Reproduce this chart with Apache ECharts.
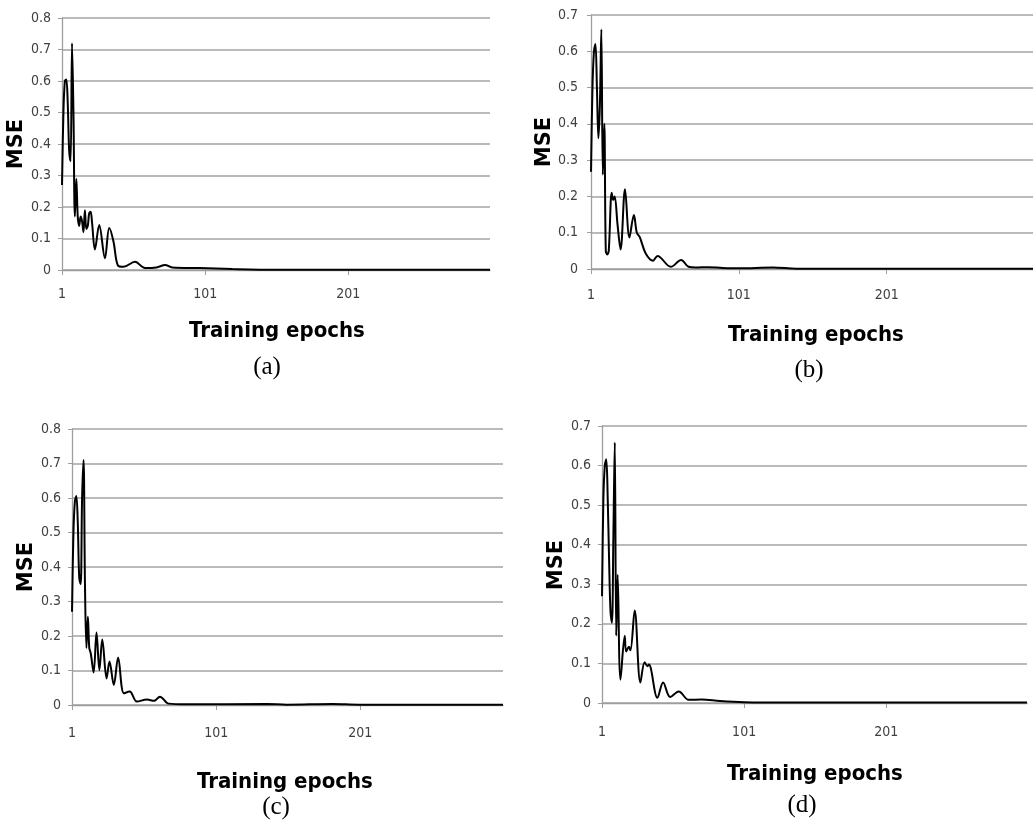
<!DOCTYPE html>
<html>
<head>
<meta charset="utf-8">
<title>MSE vs training epochs</title>
<script src="https://cdn.jsdelivr.net/npm/echarts@6/dist/echarts.min.js"></script>
<style>
  html, body { margin: 0; padding: 0; background: #fff; }
  #chart { width: 1033px; height: 824px; }
</style>
</head>
<body>
<div id="chart"></div>
<script>
// [epoch, MSE] (peaks, troughs and tail)
const mseA = [[1,0.27],[2,0.50],[3,0.60],[4,0.605],[5,0.53],[6,0.38],[7,0.345],[8,0.72],[9,0.50],[10,0.17],[11,0.29],[12,0.17],[13,0.14],[14,0.17],[15,0.155],[16,0.12],[17,0.19],[18,0.13],[19,0.14],[20,0.18],[21,0.185],[22,0.15],[24,0.065],[27,0.143],[31,0.037],[34,0.133],[37,0.09],[40,0.015],[44,0.01],[52,0.026],[59,0.006],[67,0.008],[73,0.016],[78,0.008],[97,0.006],[120,0.003],[150,0.001],[300,0.001]]
const mseB = [[1,0.268],[2,0.50],[3,0.60],[4,0.62],[5,0.50],[6,0.36],[7,0.45],[8,0.66],[9,0.26],[10,0.40],[11,0.05],[12,0.04],[13,0.05],[15,0.21],[16,0.19],[17,0.20],[19,0.12],[21,0.054],[24,0.22],[27,0.087],[30,0.149],[32,0.10],[34,0.088],[38,0.043],[43,0.023],[46,0.036],[55,0.006],[62,0.025],[67,0.006],[72,0.004],[80,0.005],[90,0.003],[101,0.002],[124,0.004],[140,0.001],[300,0.001]]
const mseC = [[1,0.27],[2,0.50],[3,0.59],[4,0.606],[5,0.53],[6,0.37],[7,0.35],[8,0.60],[9,0.71],[10,0.35],[11,0.165],[12,0.256],[13,0.165],[14,0.15],[16,0.094],[18,0.21],[20,0.101],[22,0.19],[25,0.077],[27,0.126],[30,0.058],[33,0.138],[37,0.034],[41,0.039],[46,0.01],[53,0.016],[58,0.012],[62,0.024],[68,0.004],[80,0.002],[136,0.003],[150,0.001],[182,0.003],[200,0.001],[300,0.001]]
const mseD = [[1,0.27],[2,0.52],[3,0.60],[4,0.616],[5,0.52],[6,0.36],[7,0.23],[8,0.203],[9,0.42],[10,0.658],[11,0.17],[12,0.324],[14,0.059],[17,0.17],[18,0.13],[20,0.142],[21,0.133],[24,0.234],[28,0.052],[31,0.103],[33,0.093],[34,0.097],[40,0.013],[44,0.052],[49,0.015],[55,0.029],[62,0.008],[71,0.009],[84,0.005],[101,0.002],[130,0.001],[300,0.001]]

const yMax = [0.8, 0.7, 0.8, 0.7]
const panelNames = ['(a)', '(b)', '(c)', '(d)']
const xTitle = 'Training epochs'
const yTitle = 'MSE'

const narrow = "'Liberation Sans Narrow', 'DejaVu Sans Condensed', sans-serif"

// plot boxes of the four panels
const boxes = [
  { left: 62, top: 18, width: 428, height: 252, xMargin: 17, yMargin: 11 },
  { left: 591, top: 15, width: 448, height: 254, xMargin: 19, yMargin: 13 },
  { left: 72, top: 429, width: 431, height: 276, xMargin: 21, yMargin: 11 },
  { left: 602, top: 426, width: 425, height: 277, xMargin: 22, yMargin: 11 }
]
const mseAt = [[17, 144], [545, 142], [27, 567], [557, 565]]
const titleAt = [[277, 331], [816, 335], [285, 782], [815, 774]]
const nameAt = [[267, 367], [809, 370], [276, 807], [802, 805]]

const series = [mseA, mseB, mseC, mseD]

const chart = echarts.init(document.getElementById('chart'))

const grid = boxes.map(b => ({ left: b.left, top: b.top, width: b.width, height: b.height }))

const xAxis = boxes.map((b, i) => ({
  type: 'value',
  gridIndex: i,
  min: 1,
  max: 300,
  interval: 100,
  axisLine: { show: true, onZero: false, lineStyle: { color: '#9e9e9e', width: 1.3 } },
  axisTick: { show: true, length: 5, lineStyle: { color: '#9e9e9e' } },
  splitLine: { show: false },
  axisLabel: {
    margin: b.xMargin,
    color: '#404040',
    fontFamily: narrow,
    fontSize: 14,
    showMaxLabel: false
  }
}))

const yAxis = boxes.map((b, i) => ({
  type: 'value',
  gridIndex: i,
  min: 0,
  max: yMax[i],
  interval: 0.1,
  axisLine: { show: true, lineStyle: { color: '#9e9e9e', width: 1.3 } },
  axisTick: { show: true, length: 4, lineStyle: { color: '#9e9e9e' } },
  splitLine: { show: true, lineStyle: { color: '#a3a3a3', width: 1.5 } },
  axisLabel: {
    margin: b.yMargin,
    color: '#404040',
    fontFamily: narrow,
    fontSize: 14,
    formatter(v) {
      return v === 0 ? '0' : v.toFixed(1)
    }
  }
}))

const graphic = []
boxes.forEach((b, i) => {
  graphic.push({
    type: 'text',
    x: mseAt[i][0],
    y: mseAt[i][1],
    rotation: Math.PI / 2,
    style: {
      text: yTitle,
      font: "bold 21px 'DejaVu Sans', sans-serif",
      fill: '#000',
      align: 'center',
      verticalAlign: 'middle'
    }
  })
  graphic.push({
    type: 'text',
    x: titleAt[i][0],
    y: titleAt[i][1],
    style: {
      text: xTitle,
      font: "bold 22px " + narrow,
      fill: '#000',
      align: 'center',
      verticalAlign: 'middle'
    }
  })
  graphic.push({
    type: 'text',
    x: nameAt[i][0],
    y: nameAt[i][1],
    style: {
      text: panelNames[i],
      font: "25px 'Liberation Serif', 'DejaVu Serif', serif",
      fill: '#000',
      align: 'center',
      verticalAlign: 'middle'
    }
  })
})

chart.setOption({
  backgroundColor: '#fff',
  animation: false,
  grid: grid,
  xAxis: xAxis,
  yAxis: yAxis,
  graphic: graphic,
  series: series.map((d, i) => ({
    type: 'line',
    xAxisIndex: i,
    yAxisIndex: i,
    data: d,
    smooth: 0.35,
    showSymbol: false,
    lineStyle: { color: '#000', width: 2 }
  }))
})
</script>
</body>
</html>
